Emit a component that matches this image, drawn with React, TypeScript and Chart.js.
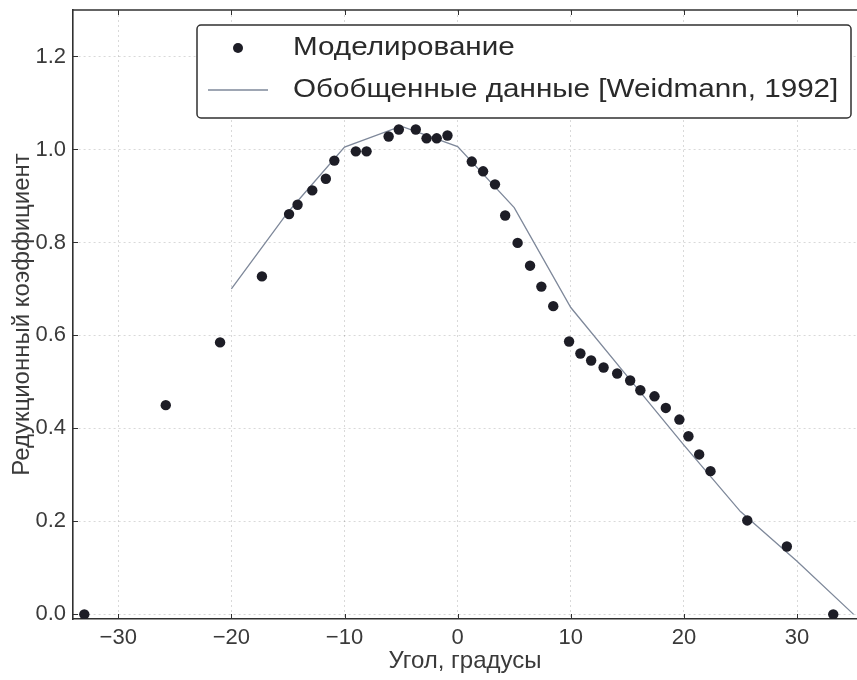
import React, { useEffect, useRef } from "react";
import { Chart, registerables } from "chart.js";

Chart.register(...registerables);

// Моделирование (simulation) points
const simAngles = [
  -33.0, -25.8, -21.0, -17.3, -14.9, -14.15, -12.85, -11.65, -10.9, -9.0, -8.05,
  -6.1, -5.2, -3.7, -2.75, -1.85, -0.9, 1.25, 2.25, 3.3, 4.2, 5.3, 6.4, 7.4, 8.45,
  9.85, 10.85, 11.8, 12.9, 14.1, 15.25, 16.15, 17.4, 18.4, 19.6, 20.4, 21.35, 22.35,
  25.6, 29.1, 33.2,
];
const simValues = [
  0.0, 0.45, 0.585, 0.727, 0.861, 0.881, 0.912, 0.937, 0.976, 0.996, 0.996,
  1.028, 1.043, 1.043, 1.024, 1.024, 1.03, 0.974, 0.953, 0.925, 0.858, 0.799, 0.75,
  0.705, 0.663, 0.587, 0.561, 0.546, 0.531, 0.518, 0.503, 0.482, 0.469, 0.444,
  0.419, 0.383, 0.344, 0.308, 0.202, 0.146, 0.0,
];

// Обобщенные данные [Weidmann, 1992]
const weidAngles = [-20, -15, -10, -5, 0, 5, 10, 15, 20, 25, 30, 35];
const weidValues = [0.7, 0.865, 1.005, 1.05, 1.006, 0.875, 0.66, 0.512, 0.364, 0.221, 0.114, 0.0];

const xTickValues = [-30, -20, -10, 0, 10, 20, 30];
const yTickValues = [0.0, 0.2, 0.4, 0.6, 0.8, 1.0, 1.2];

const seriesLabels = ["Моделирование", "Обобщенные данные [Weidmann, 1992]"];
const xTitle = "Угол, градусы";
const yTitle = "Редукционный коэффициент";

const FONT = "'Liberation Sans', Arial, Helvetica, sans-serif";
const POINT_COLOR = "#1d1d26";
const LINE_COLOR = "#7e889a";
const FRAME_COLOR = "#303030";
const TEXT_COLOR = "#3a3a3a";

const framePlugin = {
  id: "frameAndTicks",
  afterDatasetsDraw(chart: any) {
    const { ctx, chartArea: ca, scales } = chart;
    ctx.save();
    ctx.strokeStyle = FRAME_COLOR;
    ctx.lineWidth = 1;
    const tl = 5;
    ctx.beginPath();
    xTickValues.forEach((v) => {
      const px = Math.round(scales.x.getPixelForValue(v)) + 0.5;
      ctx.moveTo(px, ca.bottom);
      ctx.lineTo(px, ca.bottom - tl);
      ctx.moveTo(px, ca.top);
      ctx.lineTo(px, ca.top + tl);
    });
    yTickValues.forEach((v) => {
      const py = Math.round(scales.y.getPixelForValue(v)) + 0.5;
      ctx.moveTo(ca.left, py);
      ctx.lineTo(ca.left + tl, py);
    });
    ctx.stroke();
    ctx.lineWidth = 1.6;
    ctx.beginPath();
    ctx.moveTo(ca.left, ca.top);
    ctx.lineTo(ca.right, ca.top);
    ctx.stroke();
    ctx.restore();
  },
};

const legendPlugin = {
  id: "boxLegend",
  afterDraw(chart: any) {
    const { ctx, chartArea: ca } = chart;
    const x0 = ca.left + 124;
    const y0 = ca.top + 15;
    const w = ca.right - 6 - x0;
    const h = 93;
    ctx.save();
    ctx.beginPath();
    ctx.roundRect(x0, y0, w, h, 4);
    ctx.fillStyle = "#ffffff";
    ctx.fill();
    ctx.lineWidth = 1.5;
    ctx.strokeStyle = FRAME_COLOR;
    ctx.stroke();

    const ds = chart.data.datasets;
    const y1 = y0 + 23;
    const y2 = y0 + 65;
    ctx.beginPath();
    ctx.arc(x0 + 41, y1, 5, 0, Math.PI * 2);
    ctx.fillStyle = POINT_COLOR;
    ctx.fill();
    ctx.beginPath();
    ctx.moveTo(x0 + 11, y2);
    ctx.lineTo(x0 + 71, y2);
    ctx.strokeStyle = LINE_COLOR;
    ctx.lineWidth = 1.3;
    ctx.stroke();

    ctx.fillStyle = "#2a2a2a";
    ctx.font = `26px ${FONT}`;
    ctx.textBaseline = "middle";
    ctx.textAlign = "left";
    const sx = 1.14;
    [ [ds[0].label, y1], [ds[1].label, y2] ].forEach(([txt, yy]: any) => {
      ctx.save();
      ctx.translate(x0 + 96, yy);
      ctx.scale(sx, 1);
      ctx.fillText(txt, 0, 0);
      ctx.restore();
    });
    ctx.restore();
  },
};

export default function App() {
  const canvasRef = useRef<HTMLCanvasElement | null>(null);

  useEffect(() => {
    if (!canvasRef.current) return;
    const simData = simAngles.map((x, i) => ({ x, y: simValues[i] }));
    const weidData = weidAngles.map((x, i) => ({ x, y: weidValues[i] }));

    const chart = new Chart(canvasRef.current, {
      type: "scatter",
      data: {
        datasets: [
          {
            label: seriesLabels[0],
            data: simData,
            showLine: false,
            pointRadius: 5.2,
            pointBackgroundColor: POINT_COLOR,
            pointBorderColor: POINT_COLOR,
            pointBorderWidth: 0,
            order: 0,
          },
          {
            label: seriesLabels[1],
            data: weidData,
            showLine: true,
            pointRadius: 0,
            borderColor: LINE_COLOR,
            borderWidth: 1.3,
            tension: 0,
            order: 1,
          },
        ],
      },
      options: {
        animation: false,
        responsive: true,
        maintainAspectRatio: false,
        layout: { autoPadding: false, padding: { top: 10, right: 0, left: 0, bottom: 0 } },
        plugins: {
          legend: { display: false },
          tooltip: { enabled: false },
        },
        scales: {
          x: {
            type: "linear",
            min: -34,
            max: 35.3,
            afterBuildTicks: (scale: any) => {
              scale.ticks = xTickValues.map((v) => ({ value: v }));
            },
            afterFit: (scale: any) => {
              scale.height = 61;
              scale.paddingLeft = 0;
              scale.paddingRight = 0;
            },
            ticks: {
              font: { family: FONT, size: 22 },
              color: TEXT_COLOR,
              padding: 6,
              callback: (v: any) => (Number(v) < 0 ? "\u2212" + Math.abs(Number(v)) : String(v)),
            },
            grid: {
              color: "rgba(0,0,0,0.15)",
              lineWidth: 1,
              drawTicks: false,
            },
            border: { display: true, color: FRAME_COLOR, width: 1.6, dash: [2, 3] },
            title: {
              display: true,
              text: xTitle,
              font: { family: FONT, size: 24 },
              color: TEXT_COLOR,
              padding: { top: 0, bottom: 4 },
            },
          },
          y: {
            type: "linear",
            min: -0.01,
            max: 1.3,
            afterBuildTicks: (scale: any) => {
              scale.ticks = yTickValues.map((v) => ({ value: v }));
            },
            afterFit: (scale: any) => {
              scale.width = 73;
              scale.paddingTop = 0;
              scale.paddingBottom = 0;
            },
            ticks: {
              font: { family: FONT, size: 22 },
              color: TEXT_COLOR,
              padding: 7,
              callback: (v: any) => Number(v).toFixed(1),
            },
            grid: {
              color: "rgba(0,0,0,0.15)",
              lineWidth: 1,
              drawTicks: false,
            },
            border: { display: true, color: FRAME_COLOR, width: 1.6, dash: [2, 3] },
            title: {
              display: true,
              text: yTitle,
              font: { family: FONT, size: 24 },
              color: TEXT_COLOR,
              padding: { top: 8, bottom: 0 },
            },
          },
        },
      },
      plugins: [framePlugin, legendPlugin],
    });
    return () => chart.destroy();
  }, []);

  return (
    <div style={{ position: "absolute", left: 0, top: 0, width: 857, height: 680, background: "#fff" }}>
      <canvas ref={canvasRef} />
    </div>
  );
}
